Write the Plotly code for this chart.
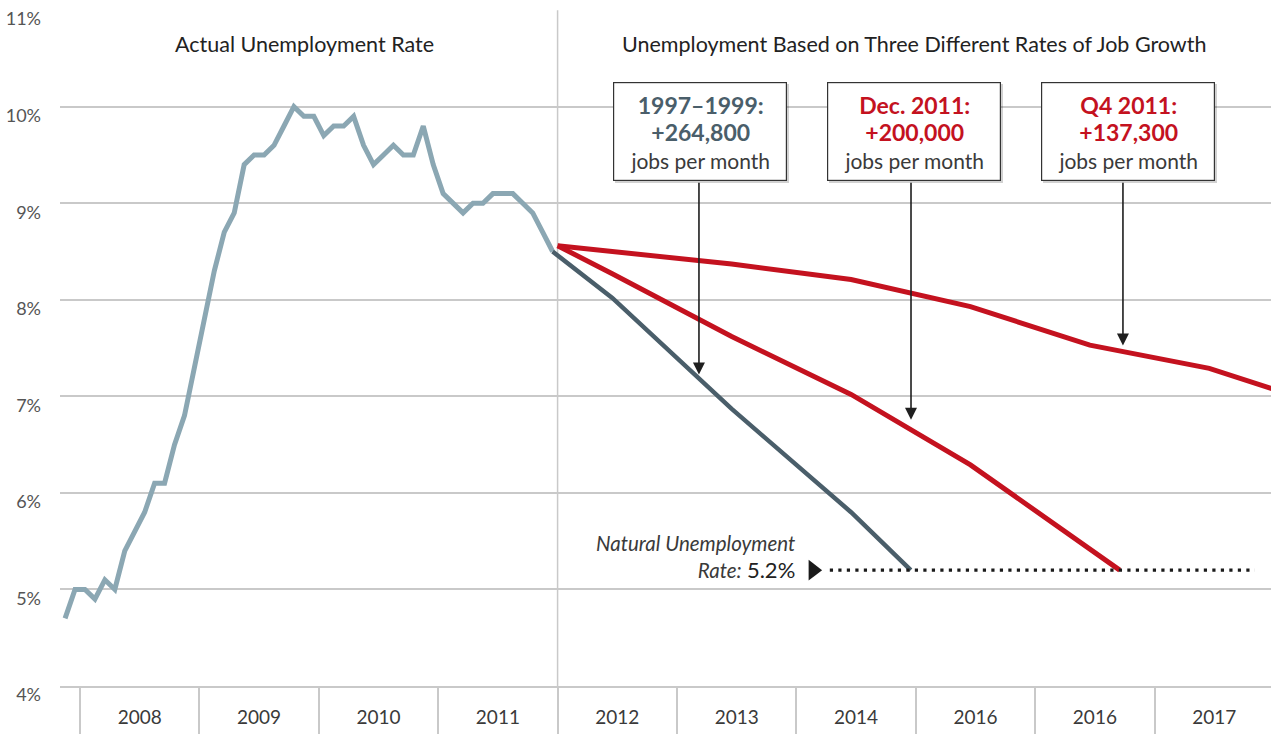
import numpy as np
import plotly.graph_objects as go

# ---------------------------------------------------------------------------
# Data
# ---------------------------------------------------------------------------
# Monthly unemployment rate (%), November 2007 through December 2011
actual_first_month = (2007, 11)
actual_rate = [4.7, 5.0, 5.0, 4.9, 5.1, 5.0, 5.4, 5.6, 5.8, 6.1,
               6.1, 6.5, 6.8, 7.3, 7.8, 8.3, 8.7, 8.9, 9.4, 9.5,
               9.5, 9.6, 9.8, 10.0, 9.9, 9.9, 9.7, 9.8, 9.8, 9.9,
               9.6, 9.4, 9.5, 9.6, 9.5, 9.5, 9.8, 9.4, 9.1, 9.0,
               8.9, 9.0, 9.0, 9.1, 9.1, 9.1, 9.0, 8.9, 8.7, 8.5]

# Projected paths (x in decimal years, rate in %)
proj_1997_x = [2011.958, 2012.458, 2013.458, 2014.458, 2014.958]
proj_1997_rate = [8.5, 8.02, 6.87, 5.80, 5.2]

proj_dec2011_x = [2012.0, 2012.458, 2013.458, 2014.458, 2015.458, 2016.458, 2016.708]
proj_dec2011_rate = [8.56, 8.27, 7.62, 7.02, 6.29, 5.43, 5.2]

proj_q42011_x = [2012.0, 2012.458, 2013.458, 2014.458, 2015.458, 2016.458, 2017.458, 2018.458]
proj_q42011_rate = [8.56, 8.50, 8.37, 8.21, 7.93, 7.53, 7.29, 6.89]

natural_rate = 5.2

year_starts = [2008, 2009, 2010, 2011, 2012, 2013, 2014, 2015, 2016, 2017]
year_labels = ["2008", "2009", "2010", "2011", "2012", "2013", "2014", "2016", "2016", "2017"]
y_ticks = [4, 5, 6, 7, 8, 9, 10, 11]
y_tick_text = [f"{v}%" for v in y_ticks]

scenario_heads = ["1997–1999:<br>+264,800", "Dec. 2011:<br>+200,000", "Q4 2011:<br>+137,300"]
scenario_sub = "jobs per month"

# ---------------------------------------------------------------------------
# Styling
# ---------------------------------------------------------------------------
FONT = "Lato"
C_ACTUAL = "#8BA7B3"
C_SLATE = "#4A5E6A"
C_RED = "#C4121F"
C_GRID = "#C9C9C9"
C_TEXT = "#3a3a3a"

y0, m0 = actual_first_month
actual_x = [y0 + (m0 - 0.5 + i) / 12 for i in range(len(actual_rate))]

fig = go.Figure()

fig.add_trace(go.Scatter(x=actual_x, y=actual_rate, mode="lines",
                         line=dict(color=C_ACTUAL, width=5), hoverinfo="skip"))
fig.add_trace(go.Scatter(x=proj_q42011_x, y=proj_q42011_rate, mode="lines",
                         line=dict(color=C_RED, width=5), hoverinfo="skip"))
fig.add_trace(go.Scatter(x=proj_dec2011_x, y=proj_dec2011_rate, mode="lines",
                         line=dict(color=C_RED, width=5), hoverinfo="skip"))
fig.add_trace(go.Scatter(x=proj_1997_x, y=proj_1997_rate, mode="lines",
                         line=dict(color=C_SLATE, width=4.5), hoverinfo="skip"))

# Natural-rate reference: dotted line with a pointer triangle
fig.add_trace(go.Scatter(x=[2014.28, 2017.84], y=[natural_rate, natural_rate], mode="lines",
                         line=dict(color="#1a1a1a", width=3.4, dash="3.2px,5.3px"),
                         hoverinfo="skip"))
fig.add_trace(go.Scatter(x=[2014.14], y=[natural_rate], mode="markers",
                         marker=dict(symbol="triangle-right", size=18, color="#1a1a1a"),
                         hoverinfo="skip"))

# Divider between actual and projected periods
fig.add_shape(type="line", x0=2012, x1=2012, y0=4, y1=11, xref="x", yref="y",
              line=dict(color=C_GRID, width=1.5), layer="below")

annotations = []

# Section headings
annotations.append(dict(x=2009.884, y=10.65, xref="x", yref="y", showarrow=False,
                        text="Actual Unemployment Rate",
                        font=dict(family=FONT, size=21.5, color="#222")))
annotations.append(dict(x=2014.985, y=10.65, xref="x", yref="y", showarrow=False,
                        text="Unemployment Based on Three Different Rates of Job Growth",
                        font=dict(family=FONT, size=21.5, color="#222")))

# Scenario callout boxes with arrows pointing at their lines
box_x = [2013.193, 2014.989, 2016.781]
arrow_x = [2013.184, 2014.960, 2016.735]
head_colors = [C_SLATE, C_RED, C_RED]
series_for_box = [(proj_1997_x, proj_1997_rate), (proj_dec2011_x, proj_dec2011_rate),
                  (proj_q42011_x, proj_q42011_rate)]
standoffs = [4, 10, 6]
box_y = 9.742
box_bottom = 9.228

for bx, ax_, col, (sx, sy), so, head in zip(box_x, arrow_x, head_colors, series_for_box,
                                            standoffs, scenario_heads):
    tip = float(np.interp(ax_, sx, sy))
    annotations.append(dict(x=ax_, y=tip, ax=ax_, ay=box_bottom, xref="x", yref="y",
                            axref="x", ayref="y", showarrow=True, text="",
                            arrowhead=2, arrowsize=1.5, arrowwidth=1.6,
                            arrowcolor="#1f1f1f", standoff=so))
    # soft drop shadow
    annotations.append(dict(x=bx, y=box_y, xref="x", yref="y", showarrow=False,
                            text="", width=174, height=99, xshift=2, yshift=-2,
                            bgcolor="rgba(0,0,0,0.18)", borderwidth=0, borderpad=0))
    annotations.append(dict(
        x=bx, y=box_y, xref="x", yref="y", showarrow=False,
        text=(f"<b><span style='color:{col};font-size:23px'>{head}</span></b>"
              f"<br><span style='color:{C_TEXT}'>{scenario_sub}</span>"),
        width=172, height=97, align="center", valign="middle",
        bgcolor="white", bordercolor="#333", borderwidth=1.2, borderpad=0,
        font=dict(family=FONT, size=21, color=C_TEXT)))

# Natural rate label
annotations.append(dict(
    x=2014.005, y=5.335, xref="x", yref="y", showarrow=False,
    xanchor="right", yanchor="middle", align="right",
    text=(f"<i>Natural Unemployment</i><br><i>Rate:</i> "
          f"<span style='font-size:22px;color:#222'>{natural_rate}%</span>"),
    font=dict(family=FONT, size=20.5, color=C_TEXT)))

fig.update_layout(
    width=1271, height=734,
    margin=dict(l=60, r=0, t=10, b=48),
    paper_bgcolor="white", plot_bgcolor="white",
    showlegend=False,
    annotations=annotations,
    xaxis=dict(
        range=[2007.8325, 2017.975],
        tickvals=[y + 0.5 for y in year_starts], ticktext=year_labels,
        ticks="", showgrid=False, zeroline=False,
        showline=True, linecolor=C_GRID, linewidth=1.8,
        ticklabelstandoff=13,
        tickfont=dict(family=FONT, size=19, color=C_TEXT),
        minor=dict(tickvals=year_starts, ticks="outside", ticklen=48,
                   tickcolor=C_GRID, tickwidth=1.5, showgrid=False),
    ),
    yaxis=dict(
        range=[4, 11.0015],
        tickvals=y_ticks, ticktext=y_tick_text,
        showgrid=True, gridcolor=C_GRID, gridwidth=1.5,
        zeroline=False, showline=False, ticks="",
        ticklabelstandoff=18, ticklabelshift=9,
        tickfont=dict(family=FONT, size=18, color="#555"),
    ),
)

fig.write_html("out.html")
